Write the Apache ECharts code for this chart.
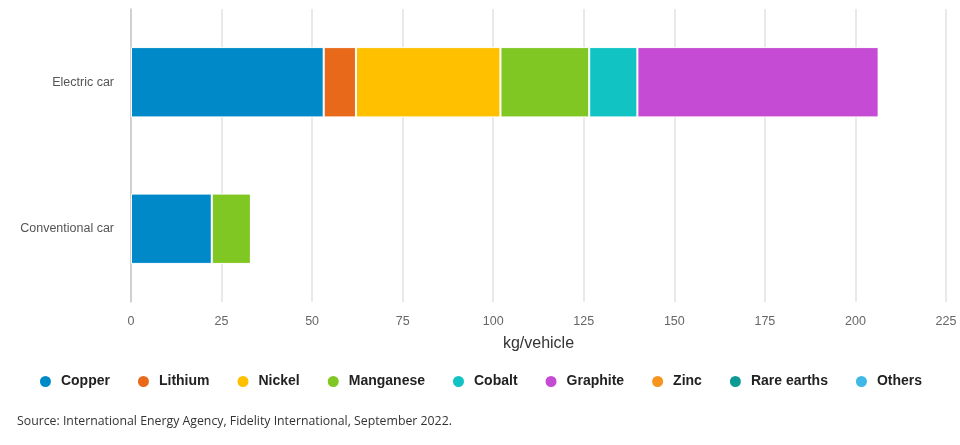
<!DOCTYPE html>
<html>
<head>
<meta charset="utf-8">
<script src="https://cdn.jsdelivr.net/npm/echarts@6/dist/echarts.min.js"></script>
<style>
html,body{margin:0;padding:0;background:#fff;}
#chart{width:960px;height:445px;}
</style>
</head>
<body>
<div id="chart"></div>
<script>
const categories = ['Conventional car', 'Electric car'];
const seriesNames = ['Copper', 'Lithium', 'Nickel', 'Manganese', 'Cobalt', 'Graphite', 'Zinc', 'Rare earths', 'Others'];
const copper = [22.3, 53.2];
const lithium = [0, 8.9];
const nickel = [0, 39.9];
const manganese = [10.8, 24.5];
const cobalt = [0, 13.3];
const graphite = [0, 66.6];
const zinc = [0, 0];
const rareEarths = [0, 0];
const others = [0, 0];
const colors = ['#0089c8', '#e8691a', '#ffc000', '#80c723', '#11c3c3', '#c64bd4', '#f7941d', '#0e9a94', '#3fb8e6'];
const xTicks = [0, 25, 50, 75, 100, 125, 150, 175, 200, 225];
const xName = 'kg/vehicle';
const sourceText = 'Source: International Energy Agency, Fidelity International, September 2022.';

const values = [copper, lithium, nickel, manganese, cobalt, graphite, zinc, rareEarths, others];
const chart = echarts.init(document.getElementById('chart'));
chart.setOption({
  animation: false,
  color: colors,
  grid: { left: 131, right: 14, top: 9, bottom: 143, containLabel: false },
  xAxis: {
    type: 'value',
    min: xTicks[0],
    max: xTicks[xTicks.length - 1],
    interval: 25,
    name: xName,
    nameLocation: 'middle',
    nameGap: 34,
    nameTextStyle: { fontFamily: 'Liberation Sans', fontSize: 16, color: '#333' },
    axisLine: { show: false },
    axisTick: { show: false },
    axisLabel: { fontFamily: 'Liberation Sans', fontSize: 12.5, color: '#666', margin: 13 },
    splitLine: { show: true, lineStyle: { color: '#e2e2e2', width: 1.5 } }
  },
  yAxis: {
    type: 'category',
    data: categories,
    axisLine: { show: true, lineStyle: { color: '#c8c8c8', width: 1.5 } },
    axisTick: { show: false },
    axisLabel: { fontFamily: 'Liberation Sans', fontSize: 12.5, color: '#555', margin: 17 }
  },
  legend: {
    bottom: 51,
    left: 'center',
    icon: 'circle',
    itemWidth: 21,
    itemHeight: 13,
    itemGap: 26,
    textStyle: { fontFamily: 'Liberation Sans', fontSize: 14, fontWeight: 'bold', color: '#222' },
    data: seriesNames
  },
  graphic: [{
    type: 'text',
    left: 17,
    top: 415,
    style: { text: sourceText, font: '12.3px "Open Sans"', fill: '#333' }
  }],
  series: seriesNames.map((n, i) => ({
    name: n,
    type: 'bar',
    stack: 'total',
    barWidth: '48%',
    data: values[i],
    itemStyle: { borderColor: '#fff', borderWidth: 1 }
  }))
});
</script>
</body>
</html>
